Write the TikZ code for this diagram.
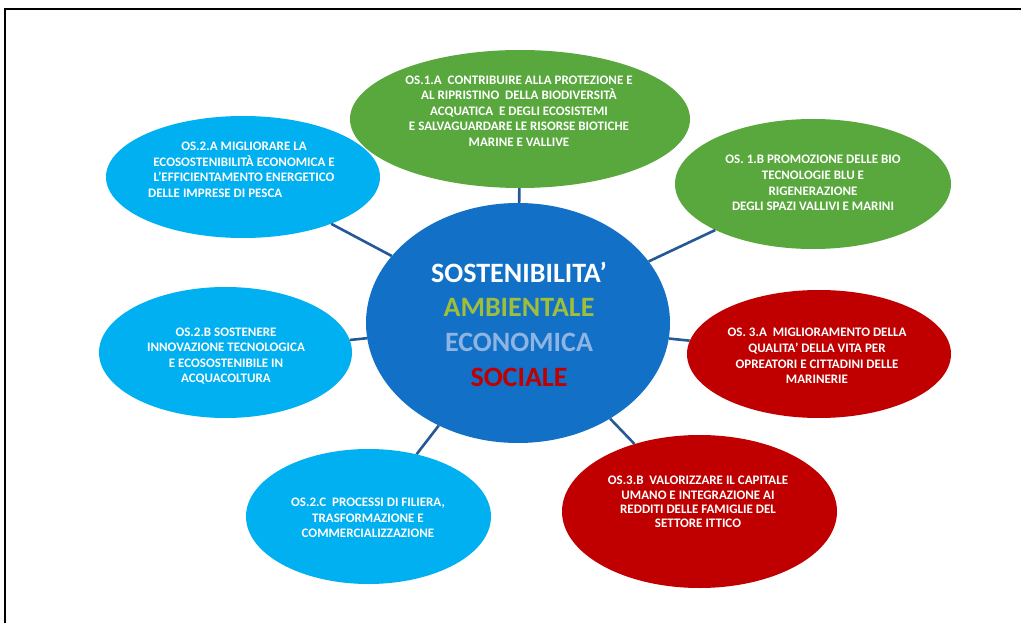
\documentclass[tikz,border=0pt]{standalone}
\usepackage{fontspec}
\setmainfont{Carlito}
\usetikzlibrary{shapes.geometric}
\definecolor{cgreen}{RGB}{88,168,61}
\definecolor{cblue}{RGB}{0,176,240}
\definecolor{cred}{RGB}{192,0,0}
\definecolor{ccenter}{RGB}{18,112,198}
\definecolor{cline}{RGB}{38,88,150}
\definecolor{camb}{RGB}{158,190,60}
\definecolor{ceco}{RGB}{141,180,226}
\tikzset{
  blob/.style={ellipse, draw=none, inner sep=0pt},
  txt/.style={font=\fontsize{13}{15.6}\selectfont\bfseries, text=white, align=center, inner sep=0pt},
  conn/.style={draw=cline, line width=2.6pt}
}
\begin{document}
\begin{tikzpicture}[x=1pt,y=-1pt]
\useasboundingbox (0,0) rectangle (1021,623);
\fill[white] (0,0) rectangle (1021,623);
\begin{scope}
\clip (0,0) rectangle (1021,623);
\draw[line width=2pt] (5,640) -- (5,9) -- (1040,9);
\end{scope}
% ellipses
\node[blob, fill=ccenter, minimum width=304pt, minimum height=240pt] (c) at (518,323) {};
\node[blob, fill=cgreen, minimum width=340pt, minimum height=138pt] (t) at (520,119) {};
\node[blob, fill=cblue, minimum width=274pt, minimum height=122pt] (tl) at (243,177) {};
\node[blob, fill=cgreen, minimum width=276pt, minimum height=130pt] (tr) at (813,184) {};
\node[blob, fill=cblue, minimum width=253pt, minimum height=131pt] (ml) at (225.5,352.5) {};
\node[blob, fill=cred, minimum width=264pt, minimum height=128pt] (mr) at (819,354) {};
\node[blob, fill=cblue, minimum width=245pt, minimum height=135pt] (bl) at (368.5,516.5) {};
\node[blob, fill=cred, minimum width=275pt, minimum height=153pt] (br) at (699.5,511.5) {};
% connectors
\draw[conn] (c) -- (t);
\draw[conn] (c) -- (tl);
\draw[conn] (c) -- (tr);
\draw[conn] (c) -- (ml);
\draw[conn] (c) -- (mr);
\draw[conn] (c) -- (bl);
\draw[conn] (c) -- (br);
% texts
\node[txt] (tt) at (519,111) {OS.1.A\ \ CONTRIBUIRE ALLA PROTEZIONE E\\AL RIPRISTINO\ \ DELLA BIODIVERSITÀ\\ACQUATICA\ \ E DEGLI ECOSISTEMI\\E SALVAGUARDARE LE RISORSE BIOTICHE\\MARINE E VALLIVE};
\node[txt] (tlt) at (244,162) {OS.2.A MIGLIORARE LA\\ECOSOSTENIBILITÀ ECONOMICA E\\L’EFFICIENTAMENTO ENERGETICO};
\node[txt, anchor=west] (tlt2) at (148,193) {DELLE IMPRESE DI PESCA};
\node[txt] (trt) at (813,183) {OS. 1.B PROMOZIONE DELLE BIO\\TECNOLOGIE BLU E\\RIGENERAZIONE\\DEGLI SPAZI VALLIVI E MARINI};
\node[txt] (mlt) at (226,356) {OS.2.B SOSTENERE\\INNOVAZIONE TECNOLOGICA\\E ECOSOSTENIBILE IN\\ACQUACOLTURA};
\node[txt] (mrt) at (817,356) {OS. 3.A\ \ MIGLIORAMENTO DELLA\\QUALITA’ DELLA VITA PER\\OPREATORI E CITTADINI DELLE\\MARINERIE};
\node[txt] (blt) at (368,518) {OS.2.C\ \ PROCESSI DI FILIERA,\\TRASFORMAZIONE E\\COMMERCIALIZZAZIONE};
\node[txt, font=\fontsize{13}{14.2}\selectfont\bfseries] (brt) at (698,502) {OS.3.B\ \ VALORIZZARE IL CAPITALE\\UMANO E INTEGRAZIONE AI\\REDDITI DELLE FAMIGLIE DEL\\SETTORE ITTICO};
\node[txt, font=\fontsize{28}{34.7}\selectfont\bfseries] (ct) at (519,324) {SOSTENIBILITA’\\\textcolor{camb}{AMBIENTALE}\\\textcolor{ceco}{ECONOMICA}\\\textcolor{cred}{SOCIALE}};
\end{tikzpicture}
\end{document}
